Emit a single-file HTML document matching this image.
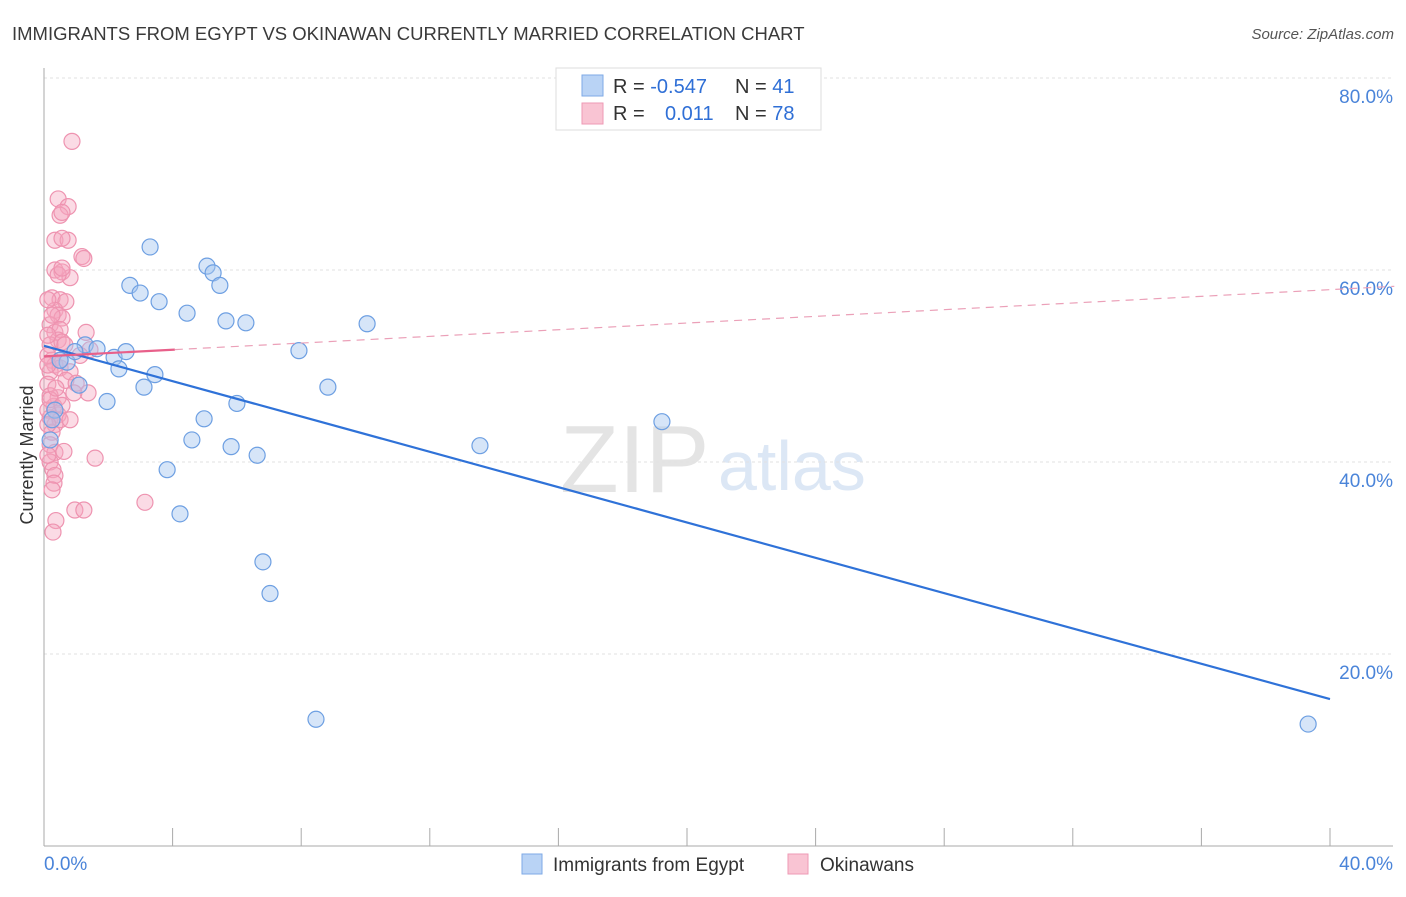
<!DOCTYPE html>
<html><head><meta charset="utf-8"><style>
body{margin:0;background:#fff;font-family:"Liberation Sans",sans-serif;}
svg text{font-family:"Liberation Sans",sans-serif;}
</style></head><body>
<svg width="1406" height="892" id="chart">
<text x="12" y="40" font-size="18.5" fill="#3a3a3a">IMMIGRANTS FROM EGYPT VS OKINAWAN CURRENTLY MARRIED CORRELATION CHART</text>
<text x="1394" y="39" font-size="15" fill="#555" font-style="italic" text-anchor="end">Source: ZipAtlas.com</text>
<text x="560" y="492" font-size="96" fill="#e4e4e4" font-family="Liberation Serif,serif">ZIP</text>
<text x="718" y="490" font-size="70" fill="#dce7f5">atlas</text>
<g id="grid"></g><g id="axes"></g><g id="pts"></g><g id="lines"></g>
<text transform="translate(33,455) rotate(-90)" font-size="18" fill="#333" text-anchor="middle">Currently Married</text>
<g>
<rect x="556" y="68" width="265" height="62" fill="#fff" stroke="#ddd"/>
<rect x="582" y="75" width="21" height="21" fill="#b9d3f5" stroke="#7ea9e6"/>
<rect x="582" y="103" width="21" height="21" fill="#f9c4d3" stroke="#ee9ab5"/>
<text x="613" y="93" font-size="20" fill="#333">R = <tspan fill="#2f6fd6">-0.547</tspan></text>
<text x="735" y="93" font-size="20" fill="#333">N = <tspan fill="#2f6fd6">41</tspan></text>
<text x="613" y="120" font-size="20" fill="#333">R = </text><text x="665" y="120" font-size="20" fill="#2f6fd6">0.011</text>
<text x="735" y="120" font-size="20" fill="#333">N = <tspan fill="#2f6fd6">78</tspan></text>
</g>
<g>
<rect x="522" y="854" width="20" height="20" fill="#b9d3f5" stroke="#7ea9e6"/>
<text x="553" y="871" font-size="19" fill="#333">Immigrants from Egypt</text>
<rect x="788" y="854" width="20" height="20" fill="#f9c4d3" stroke="#ee9ab5"/>
<text x="820" y="871" font-size="19" fill="#333">Okinawans</text>
</g>
</svg>
<script>
const blueX=[3.30,5.07,5.26,5.47,2.67,2.99,3.58,4.45,5.66,6.28,10.05,7.93,1.28,1.65,2.18,2.55,0.72,2.33,3.45,1.09,3.11,8.83,1.96,6.00,4.98,4.60,5.82,6.63,19.22,13.56,3.83,4.23,6.81,7.03,8.46,39.32,0.34,0.25,0.5,0.96,0.19];
const blueY=[62.4,60.4,59.7,58.4,58.4,57.6,56.7,55.5,54.7,54.5,54.4,51.6,52.2,51.8,50.9,51.5,50.4,49.7,49.1,48.0,47.8,47.8,46.3,46.1,44.5,42.3,41.6,40.7,44.2,41.7,39.2,34.6,29.6,26.3,13.2,12.7,45.4,44.4,50.6,51.5,42.3];
const pinkX=[0.87,0.44,0.75,0.50,0.56,0.34,0.75,0.56,1.18,1.24,0.34,0.56,0.81,0.44,0.56,0.25,0.5,0.68,0.34,0.44,0.56,0.19,0.34,0.5,0.44,0.19,1.31,0.56,0.65,1.43,0.25,0.34,0.19,0.5,0.81,0.68,1.0,1.37,0.93,0.44,0.31,0.44,0.19,0.34,0.25,0.5,0.81,0.19,0.34,0.62,1.59,0.19,0.28,0.34,0.31,0.25,0.96,1.24,3.14,0.37,0.28,0.12,0.19,0.12,0.19,0.12,0.12,0.25,0.12,0.37,0.56,1.12,0.12,0.12,0.5,0.12];
const pinkY=[73.4,67.4,66.6,65.7,66.0,63.1,63.1,63.3,61.4,61.2,60.0,59.8,59.2,59.5,60.2,57.1,56.9,56.7,55.8,55.3,55.0,54.3,53.5,53.8,52.7,52.2,53.5,52.5,52.2,51.7,50.6,50.1,49.4,49.8,49.4,48.5,48.2,47.2,47.2,46.7,45.8,44.9,44.6,43.9,43.1,44.4,44.4,41.8,41.0,41.1,40.4,40.0,39.2,38.6,37.8,37.1,35.0,35.0,35.8,33.9,32.7,48.1,46.9,45.4,46.5,51.1,53.2,55.3,50.1,47.7,45.9,51.1,43.9,40.7,50.6,56.9];
const yTicks=[20,40,60,80];
const xTickVals=[0,4,8,12,16,20,24,28,32,36,40];
const blueFit=[52.1,15.3];
const pinkFit=[51.0,58.3];
const X=v=>44+v*32.15, Y=v=>846-v*9.6;
const NS="http://www.w3.org/2000/svg";
function mk(t,a,p){const e=document.createElementNS(NS,t);for(const k in a)e.setAttribute(k,a[k]);p.appendChild(e);return e;}
const grid=document.getElementById('grid'),axes=document.getElementById('axes'),pts=document.getElementById('pts'),lines=document.getElementById('lines');
yTicks.forEach(v=>{
 const l=mk('line',{x1:44,x2:1393,y1:Y(v),y2:Y(v),stroke:'#e2e2e2','stroke-dasharray':'3,3'},grid);
 
 
 const t=mk('text',{x:1393,y:Y(v)+25,'font-size':19,fill:'#4a84d9','text-anchor':'end'},grid);
 t.textContent=v.toFixed(1)+'%';
 
 
});
mk('line',{x1:44,x2:44,y1:68,y2:846,stroke:'#aaa'},axes);
mk('line',{x1:44,x2:1393,y1:846,y2:846,stroke:'#aaa'},axes);
xTickVals.forEach(v=>{
 const l=mk('line',{x1:X(v),x2:X(v),y1:828,y2:846,stroke:'#aaa'},axes);
 
 
});
[[0,44,'start'],[40,1393,'end']].forEach(([v,x,a])=>{
 const t=mk('text',{x:x,y:870,'font-size':19,fill:'#4a84d9','text-anchor':a},axes);
 t.textContent=v.toFixed(1)+'%';
 
 
});
pinkX.forEach((x,i)=>{
 const c=mk('circle',{cx:X(x),cy:Y(pinkY[i]),r:8,fill:'rgba(246,165,190,0.4)',stroke:'#ee93b0','stroke-width':1.2},pts);
 
 
});
blueX.forEach((x,i)=>{
 const c=mk('circle',{cx:X(x),cy:Y(blueY[i]),r:8,fill:'rgba(165,198,240,0.45)',stroke:'#6d9fe2','stroke-width':1.2},pts);
 
 
});
const bl=mk('line',{x1:X(0),y1:Y(blueFit[0]),x2:X(40),y2:Y(blueFit[1]),stroke:'#2f72d8','stroke-width':2.2},lines);


const pf=v=>pinkFit[0]+(pinkFit[1]-pinkFit[0])*v/42;
const ps=mk('line',{x1:X(0),y1:Y(pf(0)),x2:X(4.07),y2:Y(pf(4.07)),stroke:'#e8608a','stroke-width':2.2},lines);


const pd=mk('line',{x1:X(4.07),y1:Y(pf(4.07)),x2:X(42),y2:Y(pf(42)),stroke:'#eba0b8','stroke-width':1.2,'stroke-dasharray':'8,6'},lines);


</script>
</body></html>
